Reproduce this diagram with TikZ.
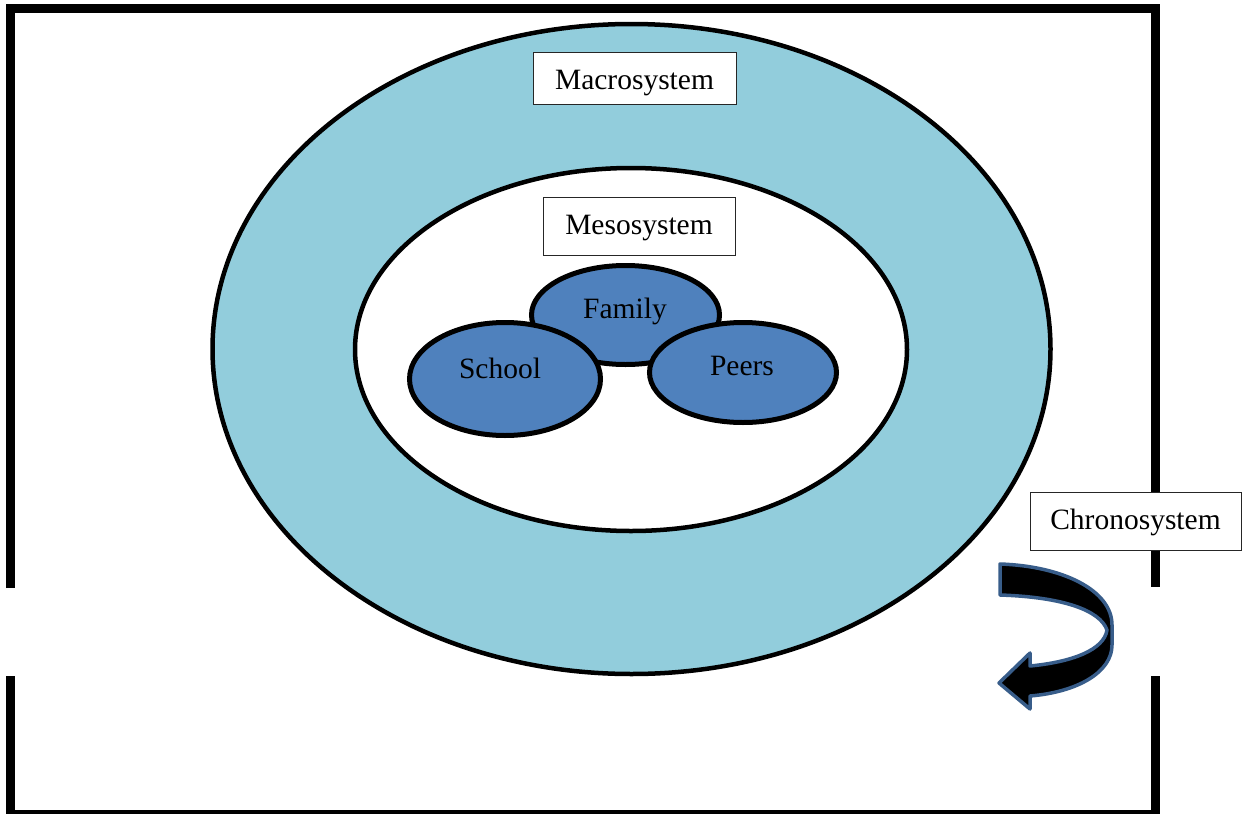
\documentclass[tikz,border=0pt]{standalone}
\usepackage{fontspec}
\setmainfont{Liberation Serif}
\usetikzlibrary{shapes.geometric}
\definecolor{macrofill}{RGB}{146,205,220}
\definecolor{microfill}{RGB}{79,129,189}
\definecolor{arrowedge}{RGB}{56,93,138}
\begin{document}
\begin{tikzpicture}[x=1pt,y=-1pt,
  txt/.style={font=\fontsize{29.5}{34}\selectfont, inner sep=0pt},
  ring/.style={ellipse, draw=black, line width=4.5pt, inner sep=0pt},
  micro/.style={ellipse, draw=black, line width=5pt, fill=microfill, inner sep=0pt},
  labelbox/.style={txt, draw=black!85, line width=1pt, fill=white, text height=19.5pt, text depth=3.5pt},
  frameline/.style={line width=9pt, line join=miter, draw=black},
  chronoarrow/.style={fill=black, draw=arrowedge, line width=3.5pt, line join=round}]
\useasboundingbox (0,0) rectangle (1248,814);
% frame
\draw[frameline] (10.5,588) -- (10.5,8.5) -- (1155.5,8.5) -- (1155.5,587);
\draw[frameline] (1155.5,676) -- (1155.5,814) -- (10.5,814) -- (10.5,676);
% rings
\node[ring, fill=macrofill, minimum width=838pt, minimum height=650pt] (macro) at (631.5,349) {};
\node[ring, fill=white, minimum width=552pt, minimum height=363pt] (meso) at (631,349.5) {};
% micro systems
\node[micro, minimum width=188pt, minimum height=99pt] (family) at (625.5,315) {};
\node[micro, minimum width=191pt, minimum height=113pt] (school) at (505,379) {};
\node[micro, minimum width=187pt, minimum height=100pt] (peers) at (743,372.5) {};
\node[txt] (familyt) at (625,311) {Family};
\node[txt] (schoolt) at (500,368.5) {School};
\node[txt] (peerst) at (742,366) {Peers};
% labels
\node[labelbox, text height=25.5pt, minimum width=203pt, minimum height=52pt] (macrol) at (634.5,78) {Macrosystem};
\node[labelbox, minimum width=192pt, minimum height=58pt] (mesol) at (639,226) {Mesosystem};
\node[labelbox, minimum width=211pt, minimum height=58pt] (chronol) at (1135.5,521) {Chronosystem};
% chronosystem arrow
\filldraw[chronoarrow] (1000,564) .. controls (1062,566) and (1112,590) .. (1112,625)
  -- (1112,645) .. controls (1112,672) and (1078,692) .. (1030,696)
  -- (1030,709) -- (999,683) -- (1030,653) -- (1030,666)
  .. controls (1072,662) and (1104,650) .. (1107,630)
  .. controls (1100,610) and (1062,597) .. (1000,595) -- cycle;
\end{tikzpicture}
\end{document}
